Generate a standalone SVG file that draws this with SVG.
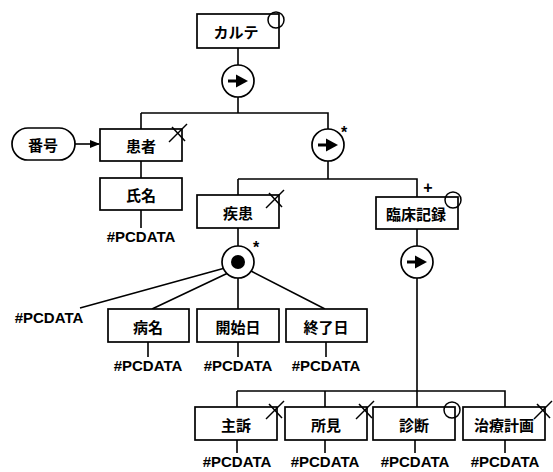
<svg xmlns="http://www.w3.org/2000/svg" width="553" height="472" viewBox="0 0 553 472">
<defs>
<style>
.box{fill:#fff;stroke:#000;stroke-width:1.7}
.ln{fill:none;stroke:#000;stroke-width:1.6}
.jp{font-family:"Noto Sans CJK JP","Liberation Sans",sans-serif;font-weight:bold;font-size:15px;text-anchor:middle;dominant-baseline:central}
.pc{font-family:"Liberation Sans",Arial,sans-serif;font-weight:bold;font-size:15px;text-anchor:middle;dominant-baseline:central}
.sm{font-family:"Liberation Sans",Arial,sans-serif;font-weight:bold;font-size:16px;text-anchor:middle}
.mk{fill:none;stroke:#000;stroke-width:1.5}
</style>
<g id="seq"><circle r="16" fill="#fff" stroke="#000" stroke-width="1.7"/><line x1="-10" y1="0" x2="0" y2="0" stroke="#000" stroke-width="3"/><polygon points="-2,-6.5 10,0 -2,6.5" fill="#000"/></g>
<g id="cross"><line x1="-9" y1="9" x2="9" y2="-9" stroke="#000" stroke-width="1.5"/><line x1="-6" y1="-6" x2="7" y2="8" stroke="#000" stroke-width="1.5"/></g>
<marker id="ah" markerWidth="10" markerHeight="10" refX="9" refY="5" orient="auto" markerUnits="userSpaceOnUse"><polygon points="0,1 10,5 0,9" fill="#000"/></marker>
</defs>
<rect width="553" height="472" fill="#fff"/>
<g id="connectors">
<path class="ln" d="M238 48V65M238 97V113M141 113H328V129M141 113V129M141 161V178M141 210V228"/>
<path class="ln" d="M75 144H99" marker-end="url(#ah)"/>
<path class="ln" d="M328 161V179M238 179H417V197M238 179V195"/>
<path class="ln" d="M238 228V246M238 278V309M225 268L80 308M228 273L152 309M251 271L325 309"/>
<path class="ln" d="M148 342V357M238 342V357M326 342V357"/>
<path class="ln" d="M417 229V246M417 278V391M237 391H505V407M237 391V407M325 391V407M417 391V407"/>
<path class="ln" d="M237 440V453M325 440V453M415 440V453M505 440V453"/>
</g>
<g id="karte"><rect class="box" x="197" y="14" width="82" height="34"/><circle class="mk" cx="276" cy="20" r="8"/><text class="jp" x="236" y="31">カルテ</text></g>
<g id="seq1"><use href="#seq" x="238" y="81"/></g>
<g id="bango"><rect class="box" x="12" y="128" width="63" height="32" rx="16"/><text class="jp" x="43" y="144">番号</text></g>
<g id="kanja"><rect class="box" x="100" y="129" width="82" height="32"/><use href="#cross" x="178" y="133"/><text class="jp" x="141" y="145">患者</text></g>
<g id="shimei"><rect class="box" x="100" y="178" width="82" height="32"/><text class="jp" x="141" y="194">氏名</text><text class="pc" x="141" y="236">#PCDATA</text></g>
<g id="seq2"><use href="#seq" x="328" y="145"/><text class="sm" x="344" y="138">*</text></g>
<g id="shikkan"><rect class="box" x="197" y="195" width="82" height="33"/><use href="#cross" x="275" y="199"/><text class="jp" x="238" y="212">疾患</text></g>
<g id="rinsho"><rect class="box" x="376" y="197" width="82" height="32"/><circle class="mk" cx="453" cy="200" r="8"/><text class="sm" x="428" y="193">+</text><text class="jp" x="416" y="213">臨床記録</text></g>
<g id="choice"><circle cx="238" cy="262" r="16" fill="#fff" stroke="#000" stroke-width="1.7"/><circle cx="238" cy="262" r="7" fill="#000"/><text class="sm" x="256" y="253">*</text></g>
<g id="pc-left"><text class="pc" x="49" y="317">#PCDATA</text></g>
<g id="byomei"><rect class="box" x="108" y="309" width="81" height="33"/><text class="jp" x="148" y="326">病名</text><text class="pc" x="148" y="365">#PCDATA</text></g>
<g id="kaishi"><rect class="box" x="197" y="309" width="82" height="33"/><text class="jp" x="238" y="326">開始日</text><text class="pc" x="238" y="365">#PCDATA</text></g>
<g id="shuryo"><rect class="box" x="286" y="309" width="81" height="33"/><text class="jp" x="326" y="326">終了日</text><text class="pc" x="326" y="365">#PCDATA</text></g>
<g id="seq3"><use href="#seq" x="417" y="262"/></g>
<g id="shuso"><rect class="box" x="195" y="407" width="82" height="33"/><use href="#cross" x="275" y="410"/><text class="jp" x="236" y="424">主訴</text><text class="pc" x="237" y="461">#PCDATA</text></g>
<g id="shoken"><rect class="box" x="285" y="407" width="82" height="33"/><use href="#cross" x="365" y="410"/><text class="jp" x="326" y="424">所見</text><text class="pc" x="325" y="461">#PCDATA</text></g>
<g id="shindan"><rect class="box" x="373" y="407" width="82" height="33"/><circle class="mk" cx="452" cy="410" r="8"/><text class="jp" x="414" y="424">診断</text><text class="pc" x="415" y="461">#PCDATA</text></g>
<g id="chiryo"><rect class="box" x="463" y="407" width="82" height="33"/><use href="#cross" x="543" y="410"/><text class="jp" x="504" y="424">治療計画</text><text class="pc" x="505" y="461">#PCDATA</text></g>
</svg>
